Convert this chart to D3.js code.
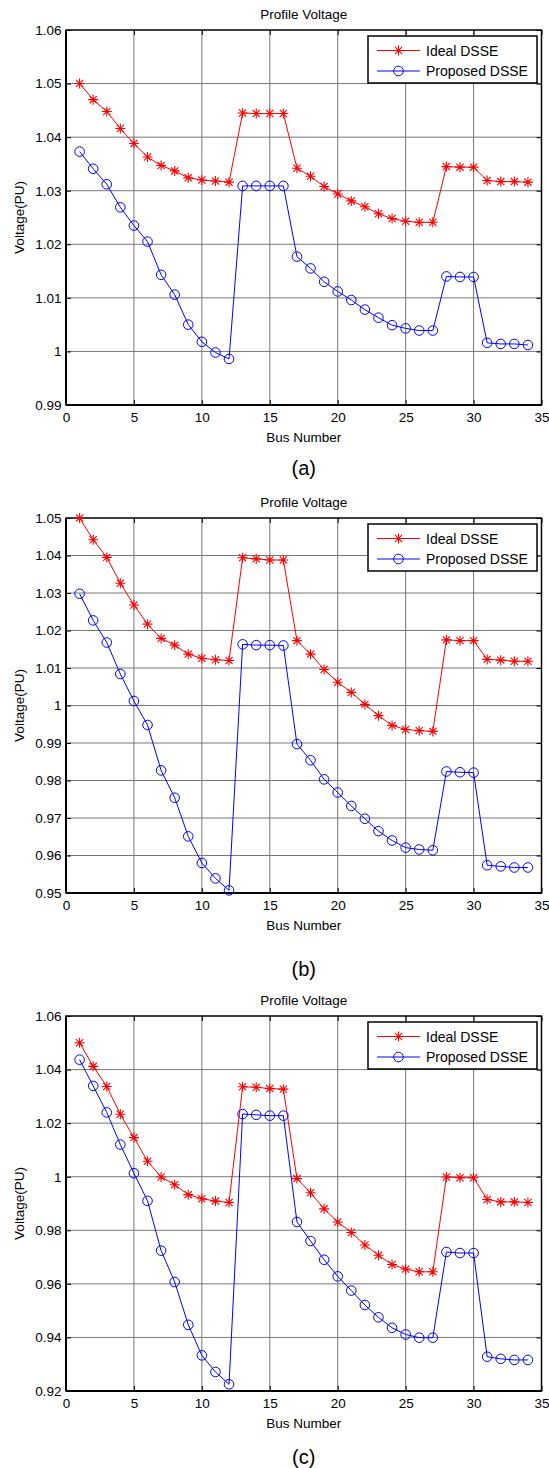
<!DOCTYPE html>
<html>
<head>
<meta charset="utf-8">
<script src="https://cdn.jsdelivr.net/npm/d3@7"></script>
<style>
  html, body { margin: 0; padding: 0; background: #ffffff; }
  svg { display: block; }
  text { font-family: Arial, "Liberation Sans", sans-serif; }
</style>
</head>
<body>
<svg id="chart" width="549" height="1468"></svg>
<script>
// ---------- data ----------
const busNumbers = [1,2,3,4,5,6,7,8,9,10,11,12,13,14,15,16,17,18,19,20,21,22,23,24,25,26,27,28,29,30,31,32,33,34];
const xTicks = [0,5,10,15,20,25,30,35];
const seriesNames = ["Ideal DSSE", "Proposed DSSE"];
const chartTitle = "Profile Voltage";
const xLabel = "Bus Number";
const yLabel = "Voltage(PU)";
const captions = ["(a)", "(b)", "(c)"];

const idealA = [1.0500,1.0470,1.0448,1.0416,1.0388,1.0363,1.0347,1.0337,1.0324,1.0320,1.0318,1.0316,
  1.0445,1.0444,1.0444,1.0444,1.0342,1.0327,1.0308,1.0294,1.0281,1.0270,1.0257,1.0248,1.0243,1.0241,1.0241,
  1.0345,1.0344,1.0344,1.0319,1.0317,1.0317,1.0316];
const proposedA = [1.0373,1.0341,1.0312,1.0269,1.0235,1.0205,1.0143,1.0106,1.0050,1.0018,0.9998,0.9986,
  1.0309,1.0309,1.0309,1.0309,1.0177,1.0155,1.0130,1.0112,1.0096,1.0078,1.0063,1.0049,1.0043,1.0039,1.0039,
  1.0140,1.0139,1.0139,1.0016,1.0014,1.0014,1.0012];
const yTicksA = [0.99,1.00,1.01,1.02,1.03,1.04,1.05,1.06];

const idealB = [1.0500,1.0442,1.0395,1.0326,1.0268,1.0217,1.0179,1.0161,1.0137,1.0126,1.0122,1.0120,
  1.0394,1.0391,1.0388,1.0388,1.0173,1.0137,1.0096,1.0062,1.0035,1.0003,0.9973,0.9947,0.9936,0.9933,0.9931,
  1.0175,1.0173,1.0173,1.0123,1.0121,1.0118,1.0118];
const proposedB = [1.0298,1.0227,1.0168,1.0084,1.0012,0.9948,0.9827,0.9754,0.9651,0.9580,0.9539,0.9507,
  1.0163,1.0161,1.0161,1.0160,0.9897,0.9854,0.9803,0.9768,0.9732,0.9698,0.9665,0.9640,0.9621,0.9616,0.9614,
  0.9824,0.9822,0.9821,0.9574,0.9571,0.9568,0.9568];
const yTicksB = [0.95,0.96,0.97,0.98,0.99,1.00,1.01,1.02,1.03,1.04,1.05];

const idealC = [1.0500,1.0412,1.0337,1.0233,1.0146,1.0058,0.9999,0.9970,0.9933,0.9918,0.9909,0.9904,
  1.0336,1.0334,1.0329,1.0327,0.9993,0.9940,0.9880,0.9831,0.9792,0.9745,0.9707,0.9672,0.9655,0.9645,0.9645,
  0.9999,0.9996,0.9996,0.9915,0.9906,0.9906,0.9904];
const proposedC = [1.0437,1.0339,1.0240,1.0120,1.0013,0.9910,0.9724,0.9607,0.9447,0.9333,0.9271,0.9225,
  1.0234,1.0231,1.0228,1.0228,0.9831,0.9760,0.9690,0.9628,0.9575,0.9521,0.9475,0.9436,0.9411,0.9399,0.9399,
  0.9719,0.9715,0.9715,0.9328,0.9320,0.9316,0.9316];
const yTicksC = [0.92,0.94,0.96,0.98,1.00,1.02,1.04,1.06];

// ---------- layout ----------
const svg = d3.select("#chart");
const plotLeft = 66, plotRight = 541.5, plotH = 375;
const panels = [
  { top: 30,   ideal: idealA, proposed: proposedA, ticks: yTicksA, caption: captions[0], capOff: 70 },
  { top: 518,  ideal: idealB, proposed: proposedB, ticks: yTicksB, caption: captions[1], capOff: 83 },
  { top: 1016, ideal: idealC, proposed: proposedC, ticks: yTicksC, caption: captions[2], capOff: 73 }
];
const red = "#ff0000", blue = "#0000ff";
const fmt = v => String(+v.toFixed(2));
const fs = 13.5;

function starPath(r) {
  const d = r * 0.72;
  return `M${-r},0L${r},0M0,${-r}L0,${r}M${-d},${-d}L${d},${d}M${-d},${d}L${d},${-d}`;
}

panels.forEach(p => {
  const g = svg.append("g");
  const x = d3.scaleLinear().domain([xTicks[0], xTicks[xTicks.length-1]]).range([plotLeft, plotRight]);
  const yDom = d3.extent(p.ticks);
  const y = d3.scaleLinear().domain(yDom).range([p.top + plotH, p.top]);
  const bottom = p.top + plotH;

  // grid
  g.append("g").selectAll("line").data(xTicks.slice(1, -1)).join("line")
    .attr("x1", d => x(d)).attr("x2", d => x(d)).attr("y1", p.top).attr("y2", bottom)
    .attr("stroke", "#777").attr("stroke-width", 1);
  g.append("g").selectAll("line").data(p.ticks.slice(1, -1)).join("line")
    .attr("x1", plotLeft).attr("x2", plotRight).attr("y1", d => y(d)).attr("y2", d => y(d))
    .attr("stroke", "#777").attr("stroke-width", 1);

  // axes with inner ticks
  const axB = d3.axisBottom(x).tickValues(xTicks).tickSize(-5).tickPadding(7.5).tickFormat(d3.format("d"));
  const axT = d3.axisTop(x).tickValues(xTicks).tickSize(-5).tickFormat("");
  const axL = d3.axisLeft(y).tickValues(p.ticks).tickSize(-5).tickPadding(4.5).tickFormat(fmt);
  const axR = d3.axisRight(y).tickValues(p.ticks).tickSize(-5).tickFormat("");
  const styleAxis = (sel) => {
    sel.select(".domain").remove();
    sel.selectAll("line").attr("stroke", "#000");
    sel.selectAll("text").attr("font-size", fs).attr("fill", "#000")
      .attr("font-family", "Arial, 'Liberation Sans', sans-serif");
  };
  g.append("g").attr("transform", `translate(0,${bottom})`).call(axB).call(styleAxis);
  g.append("g").attr("transform", `translate(0,${p.top})`).call(axT).call(styleAxis);
  g.append("g").attr("transform", `translate(${plotLeft},0)`).call(axL).call(styleAxis);
  g.append("g").attr("transform", `translate(${plotRight},0)`).call(axR).call(styleAxis);

  // box
  g.append("rect").attr("x", plotLeft).attr("y", p.top).attr("width", plotRight - plotLeft)
    .attr("height", plotH).attr("fill", "none").attr("stroke", "#000").attr("stroke-width", 1.5);
  g.append("line").attr("x1", plotLeft).attr("x2", plotLeft).attr("y1", p.top).attr("y2", bottom)
    .attr("stroke", "#000").attr("stroke-width", 2);
  g.append("line").attr("x1", plotLeft).attr("x2", plotRight).attr("y1", bottom).attr("y2", bottom)
    .attr("stroke", "#000").attr("stroke-width", 2);

  // lines
  const line = d3.line().x((d, i) => x(busNumbers[i])).y(d => y(d));
  g.append("path").datum(p.ideal).attr("d", line).attr("fill", "none").attr("stroke", red).attr("stroke-width", 1);
  g.append("path").datum(p.proposed).attr("d", line).attr("fill", "none").attr("stroke", blue).attr("stroke-width", 1);

  // markers
  g.append("g").selectAll("path").data(p.ideal).join("path")
    .attr("transform", (d, i) => `translate(${x(busNumbers[i])},${y(d)})`)
    .attr("d", starPath(5)).attr("stroke", red).attr("stroke-width", 1.1).attr("fill", "none");
  g.append("g").selectAll("circle").data(p.proposed).join("circle")
    .attr("cx", (d, i) => x(busNumbers[i])).attr("cy", d => y(d)).attr("r", 4.8)
    .attr("fill", "none").attr("stroke", blue).attr("stroke-width", 1);

  // title & labels
  g.append("text").attr("x", (plotLeft + plotRight) / 2).attr("y", p.top - 11.5)
    .attr("text-anchor", "middle").attr("font-size", fs).text(chartTitle);
  g.append("text").attr("x", (plotLeft + plotRight) / 2).attr("y", bottom + 37)
    .attr("text-anchor", "middle").attr("font-size", fs).text(xLabel);
  g.append("text").attr("transform", `translate(23.5,${p.top + plotH / 2}) rotate(-90)`)
    .attr("text-anchor", "middle").attr("font-size", fs).text(yLabel);
  g.append("text").attr("x", (plotLeft + plotRight) / 2).attr("y", bottom + p.capOff)
    .attr("text-anchor", "middle").attr("font-size", 20)
    .attr("font-family", "'Liberation Serif', 'Times New Roman', serif").text(p.caption);

  // legend
  const lx = 368, ly = p.top + 6, lw = 169, lh = 47;
  const lg = g.append("g");
  lg.append("rect").attr("x", lx).attr("y", ly).attr("width", lw).attr("height", lh)
    .attr("fill", "#fff").attr("stroke", "#000").attr("stroke-width", 1.5);
  const items = [{ name: seriesNames[0], color: red, star: true }, { name: seriesNames[1], color: blue, star: false }];
  items.forEach((it, k) => {
    const cy = ly + 14.5 + k * 20.5;
    lg.append("line").attr("x1", lx + 9).attr("x2", lx + 52).attr("y1", cy).attr("y2", cy)
      .attr("stroke", it.color).attr("stroke-width", 1);
    if (it.star) {
      lg.append("path").attr("transform", `translate(${lx + 30.5},${cy})`).attr("d", starPath(5))
        .attr("stroke", it.color).attr("stroke-width", 1.1).attr("fill", "none");
    } else {
      lg.append("circle").attr("cx", lx + 30.5).attr("cy", cy).attr("r", 4.8)
        .attr("stroke", it.color).attr("fill", "none");
    }
    lg.append("text").attr("x", lx + 58).attr("y", cy + 5).attr("font-size", 14).text(it.name);
  });
});
</script>
</body>
</html>
